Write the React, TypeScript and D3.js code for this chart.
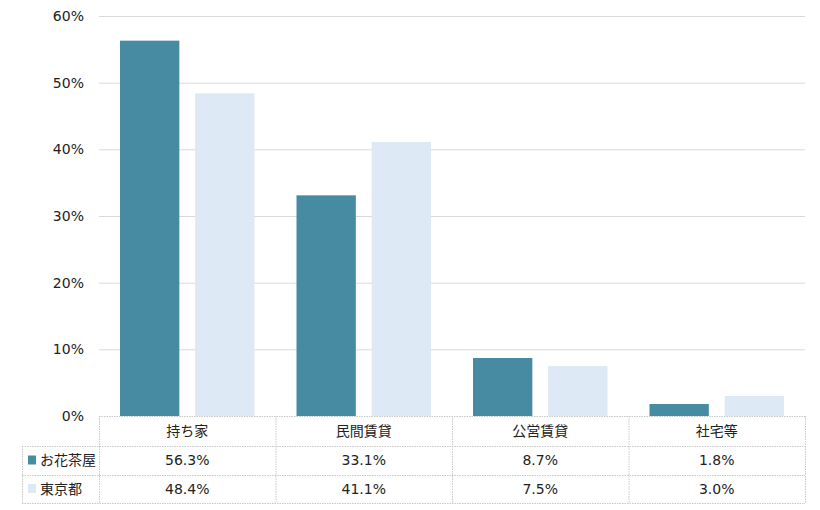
import React from "react";
import * as d3 from "d3";

const categories = ["持ち家", "民間賃貸", "公営賃貸", "社宅等"];
const seriesNames = ["お花茶屋", "東京都"];
const seriesA = [56.3, 33.1, 8.7, 1.8];
const seriesB = [48.4, 41.1, 7.5, 3.0];
const yTicks = [0, 10, 20, 30, 40, 50, 60];
const colors = ["#478ba3", "#dde9f5"];

const W = 820, H = 510;
const left = 99, right = 805, top = 16, bottom = 416;
const legendLeft = 22;
const rowH = [30, 29, 28];
const font = "'DejaVu Sans', 'Noto Sans CJK JP', sans-serif";

export default function App() {
  const x0 = d3.scaleBand<string>().domain(categories).range([left, right]).paddingInner(0).paddingOuter(0);
  const bw = x0.bandwidth();
  const x1 = d3.scaleBand<number>().domain([0, 1]).range([21, bw - 21]).paddingInner(16 / 76);
  const y = d3.scaleLinear().domain([0, 60]).range([bottom, top]);
  const series = [seriesA, seriesB];
  const rowY = [bottom, bottom + rowH[0], bottom + rowH[0] + rowH[1], bottom + rowH[0] + rowH[1] + rowH[2]];
  const border = "#c8c8c8";
  return (
    <svg width={W} height={H} style={{ position: "absolute", left: 0, top: 0 }} fontFamily={font}>
      {yTicks.map((t) => (
        <g key={t}>
          {t > 0 && <line x1={left} x2={right} y1={y(t) + 0.5} y2={y(t) + 0.5} stroke="#d9d9d9" strokeWidth={1} />}
          <text x={84} y={y(t)} dy="0.35em" textAnchor="end" fontSize={14} fill="#222">{t}%</text>
        </g>
      ))}
      {categories.map((c, i) => (
        <g key={c}>
          {series.map((s, j) => (
            <rect key={j} x={(x0(c) as number) + (x1(j) as number)} y={y(s[i])} width={x1.bandwidth()} height={y(0) - y(s[i])} fill={colors[j]} />
          ))}
        </g>
      ))}
      {/* table */}
      <g stroke={border} strokeWidth={1} strokeDasharray="1.5,1" fill="none">
        <line x1={left} x2={right} y1={rowY[0] + 0.5} y2={rowY[0] + 0.5} />
        <line x1={legendLeft} x2={right} y1={rowY[1] + 0.5} y2={rowY[1] + 0.5} />
        <line x1={legendLeft} x2={right} y1={rowY[2] + 0.5} y2={rowY[2] + 0.5} />
        <line x1={legendLeft} x2={right} y1={rowY[3] + 0.5} y2={rowY[3] + 0.5} />
        <line x1={legendLeft + 0.5} x2={legendLeft + 0.5} y1={rowY[1]} y2={rowY[3]} />
        {categories.map((c) => (
          <line key={c} x1={(x0(c) as number) + 0.5} x2={(x0(c) as number) + 0.5} y1={rowY[0]} y2={rowY[3]} />
        ))}
        <line x1={right + 0.5} x2={right + 0.5} y1={rowY[0]} y2={rowY[3]} />
      </g>
      {categories.map((c) => (
        <text key={c} x={(x0(c) as number) + bw / 2} y={(rowY[0] + rowY[1]) / 2} dy="0.35em" textAnchor="middle" fontSize={14} fill="#222">{c}</text>
      ))}
      {series.map((s, j) => (
        <g key={j}>
          <rect x={28} y={(rowY[j + 1] + rowY[j + 2]) / 2 - 5} width={8} height={9} fill={colors[j]} />
          <text x={40} y={(rowY[j + 1] + rowY[j + 2]) / 2} dy="0.35em" fontSize={14} fill="#222">{seriesNames[j]}</text>
          {categories.map((c, i) => (
            <text key={c} x={(x0(c) as number) + bw / 2} y={(rowY[j + 1] + rowY[j + 2]) / 2} dy="0.35em" textAnchor="middle" fontSize={14} fill="#222">{s[i].toFixed(1)}%</text>
          ))}
        </g>
      ))}
    </svg>
  );
}
